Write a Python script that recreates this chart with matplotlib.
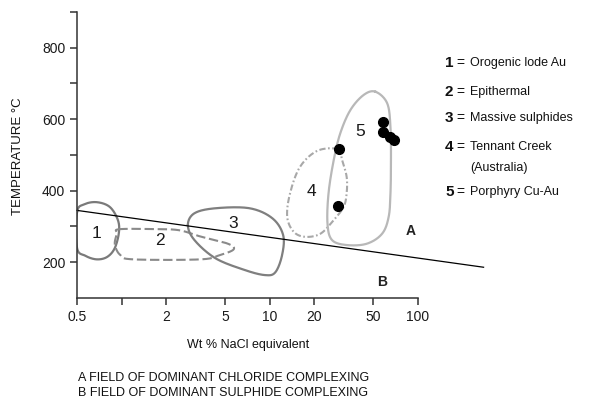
import numpy as np
import matplotlib
matplotlib.use("Agg")
import matplotlib.pyplot as plt

plt.rcParams['font.family'] = ['Liberation Sans', 'DejaVu Sans']

# outlines of the fluid-inclusion fields (wt % NaCl, temperature degC)
field1_x = [0.5, 0.56, 0.68, 0.83, 0.94, 0.96, 0.9, 0.8, 0.68, 0.57, 0.5]
field1_t = [340, 362, 368, 355, 320, 285, 240, 215, 208, 218, 240]

field2_x = [0.95, 1.5, 2.4, 3.4, 5.2, 5.7, 4.6, 3.4, 1.2, 0.98, 0.9, 0.93]
field2_t = [292, 293, 290, 272, 252, 236, 220, 208, 208, 220, 250, 280]

field3_x = [2.8, 3.1, 4.3, 7.3, 10.4, 12.3, 12.1, 10.9, 9.3, 6.8, 4.3, 3.1]
field3_t = [304, 337, 351, 351, 323, 276, 220, 172, 164, 178, 211, 262]

field4_x = [29, 21, 16, 13.7, 13.1, 14.5, 17.4, 22, 27, 31.5, 33, 33, 30.7]
field4_t = [516, 512, 467, 393, 327, 285, 271, 280, 318, 355, 393, 439, 486]

field5_x = [51.6, 61.9, 65.2, 65.7, 65.2, 63.4, 57.3, 45.3, 33.2, 26.3, 24.5, 24.9, 27.0, 29.9, 35.0, 43.0]
field5_t = [677, 645, 579, 486, 393, 327, 280, 252, 248, 262, 308, 393, 486, 561, 626, 668]

field_labels = ['1', '2', '3', '4', '5']
label_x = [0.68, 1.82, 5.7, 19.1, 40.4]
label_t = [280, 262, 309, 397, 565]

# black data points
dot_x = [29.2, 28.7, 58.2, 58.5, 65.2, 69.3]
dot_t = [516, 357, 593, 565, 551, 542]

# chloride / sulphide complexing boundary
bound_x = [0.5, 277]
bound_t = [345, 186]

legend_num = ['1', '2', '3', '4', '', '5']
legend_txt = ['Orogenic lode Au', 'Epithermal', 'Massive sulphides',
              'Tennant Creek', '(Australia)', 'Porphyry Cu-Au']

xticks = [0.5, 1, 2, 5, 10, 20, 50, 100]
xticklabels = ['0.5', '', '2', '5', '10', '20', '50', '100']
yticks = [200, 300, 400, 500, 600, 700, 800, 900]
yticklabels = ['200', '', '400', '', '600', '', '800', '']


def closed_curve(xs, ts, n=30):
    # smooth closed catmull-rom through the outline points, done in log-x space
    px = np.log10(np.asarray(xs, float)) * 300.0
    py = np.asarray(ts, float)
    m = len(px)
    outx, outy = [], []
    s = np.linspace(0, 1, n, endpoint=False)
    for i in range(m):
        p0 = np.array([px[i - 1], py[i - 1]])
        p1 = np.array([px[i], py[i]])
        p2 = np.array([px[(i + 1) % m], py[(i + 1) % m]])
        p3 = np.array([px[(i + 2) % m], py[(i + 2) % m]])
        for u in s:
            pt = 0.5 * ((2 * p1) + (-p0 + p2) * u + (2 * p0 - 5 * p1 + 4 * p2 - p3) * u ** 2
                        + (-p0 + 3 * p1 - 3 * p2 + p3) * u ** 3)
            outx.append(pt[0])
            outy.append(pt[1])
    outx.append(outx[0])
    outy.append(outy[0])
    return 10 ** (np.array(outx) / 300.0), np.array(outy)


fig = plt.figure(figsize=(5.98, 4.01), dpi=100)
ax = fig.add_axes([0.1288, 0.2569, 0.5702, 0.7132])
ax.set_xscale('log')
ax.set_xlim(0.5, 100)
ax.set_ylim(100, 900)

x, t = closed_curve(field1_x, field1_t)
ax.plot(x, t, color='#7a7a7a', lw=1.6)
x, t = closed_curve(field2_x, field2_t)
ax.plot(x, t, color='#8a8a8a', lw=1.5, dashes=(4.5, 1.8))
x, t = closed_curve(field3_x, field3_t)
ax.plot(x, t, color='#7f7f7f', lw=1.6)
x, t = closed_curve(field4_x, field4_t)
ax.plot(x, t, color='#a8a8a8', lw=1.5, dashes=(3, 1.2, 0.8, 1.2))
x, t = closed_curve(field5_x, field5_t)
ax.plot(x, t, color='#b8b8b8', lw=1.6)

ax.plot(bound_x, bound_t, color='black', lw=0.9, clip_on=False)
ax.plot(dot_x, dot_t, 'o', color='black', ms=7, mec='black')

for lab, lx, lt in zip(field_labels, label_x, label_t):
    ax.text(lx, lt, lab, fontsize=12.5, ha='center', va='center', color='#1a1a1a')

ax.text(88.9, 287, 'A', fontsize=10, fontweight='bold', ha='center', va='center', color='#222222')
ax.text(57, 145, 'B', fontsize=10, fontweight='bold', ha='center', va='center', color='#222222')

for side in ['top', 'right']:
    ax.spines[side].set_visible(False)
for side in ['left', 'bottom']:
    ax.spines[side].set_linewidth(1.1)
    ax.spines[side].set_color('#333333')

ax.set_xticks(xticks)
ax.set_xticklabels(xticklabels)
ax.xaxis.set_minor_locator(matplotlib.ticker.NullLocator())
ax.set_yticks(yticks)
ax.set_yticklabels(yticklabels)
ax.tick_params(axis='both', direction='out', length=5, width=1.1, color='#333333',
               labelsize=10, labelcolor='#1a1a1a')

fig.text(0.030, 0.611, 'TEMPERATURE \u00b0C', rotation=90, fontsize=9.5,
         ha='center', va='center', color='#111111')
fig.text(0.415, 0.140, 'Wt % NaCl equivalent', fontsize=9, ha='center', va='center',
         color='#111111')
fig.text(0.130, 0.0574, 'A FIELD OF DOMINANT CHLORIDE COMPLEXING', fontsize=9,
         ha='left', va='center', color='#111111')
fig.text(0.130, 0.020, 'B FIELD OF DOMINANT SULPHIDE COMPLEXING', fontsize=9,
         ha='left', va='center', color='#111111')

legend_y = [62.7, 91.7, 118, 146.7, 168, 191.7]
for num, txt, py in zip(legend_num, legend_txt, legend_y):
    yy = 1 - py / 401
    if num:
        fig.text(445 / 598, yy, num, fontsize=11, fontweight='bold', ha='left', va='center',
                 color='#111111')
        fig.text(460 / 598, yy, '=', fontsize=10, ha='center', va='center', color='#111111')
    fig.text(470 / 598, yy, txt, fontsize=9, ha='left', va='center', color='#111111')

fig.savefig('out.png', dpi=100)
